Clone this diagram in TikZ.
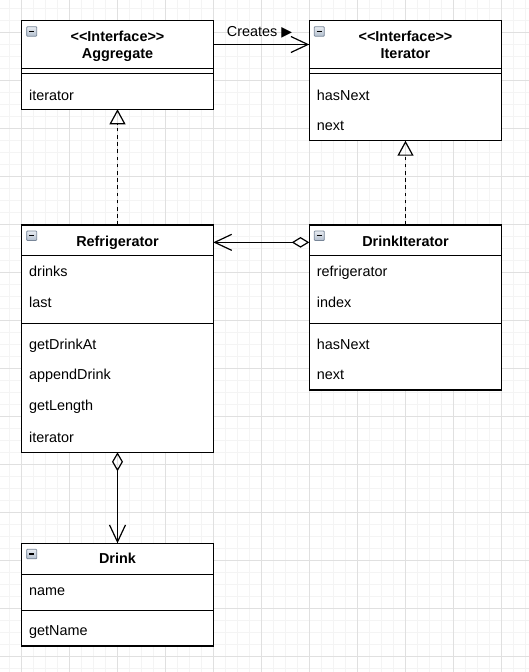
\documentclass[tikz,border=0pt]{standalone}
\usepackage{fontspec}
\setmainfont{Liberation Sans}
\newfontfamily\symfont{DejaVu Sans}
\usetikzlibrary{arrows.meta}
\definecolor{gridmajor}{RGB}{224,224,224}
\definecolor{gridminor}{RGB}{244,244,244}
\definecolor{iconborder}{RGB}{120,134,152}
\definecolor{icontop}{RGB}{232,236,242}
\definecolor{iconbottom}{RGB}{178,190,205}
\begin{document}
\begin{tikzpicture}[x=1pt,y=-1pt,
  classbox/.style={draw=black, line width=1.2pt, fill=white, inner sep=0pt, outer sep=0pt, anchor=north west},
  hdr/.style={inner sep=0pt, outer sep=0pt, anchor=north west},
  divider/.style={draw=black, line width=1.2pt},
  ttl/.style={font=\bfseries\fontsize{14.4}{17}\selectfont, inner sep=0pt, anchor=base},
  lbl/.style={font=\fontsize{14.4}{17}\selectfont, inner sep=0pt, anchor=base west},
  conn/.style={draw=black, line width=1.2pt},
  openv/.tip={Straight Barb[length=17pt,width=16pt]},
  realize/.style={conn, dash pattern=on 3.6pt off 3.6pt, -{Triangle[open,length=15pt,width=16pt]}},
  minusicon/.pic={
    \draw[draw=iconborder, top color=icontop, bottom color=iconbottom, line width=0.8pt, rounded corners=0.8pt] (0,0) rectangle (10,9.5);
    \draw[black, line width=1.3pt] (2.4,4.75) -- (7.6,4.75);
  }
]
\useasboundingbox (0,0) rectangle (529,672);
\fill[white] (0,0) rectangle (529,672);
% grid
\foreach \k in {-1,...,42} { \draw[gridminor, line width=1pt] ({21.5+12*\k},0) -- ({21.5+12*\k},672); }
\foreach \k in {0,...,55} { \draw[gridminor, line width=1pt] (0,{8.3+12*\k}) -- (529,{8.3+12*\k}); }
\foreach \k in {0,...,10} { \draw[gridmajor, line width=1pt] ({21.5+48*\k},0) -- ({21.5+48*\k},672); }
\foreach \k in {0,...,13} { \draw[gridmajor, line width=1pt] (0,{32.3+48*\k}) -- (529,{32.3+48*\k}); }

% ---------- Aggregate ----------
\node[classbox, minimum width=191.6pt, minimum height=88.6pt] (agg) at (21.7,20.7) {};
\node[hdr, minimum width=191.6pt, minimum height=47.6pt] (aggH) at (21.7,20.7) {};
\draw[divider] (21.7,68.3) -- (213.3,68.3);
\draw[divider] (21.7,73.2) -- (213.3,73.2);
\pic at (26.7,26.7) {minusicon};
\node[ttl] (aggT1) at (117.5,41.7) {<\kern0pt<Interface>\kern0pt>};
\node[ttl] (aggT2) at (117.5,58.3) {Aggregate};
\node[lbl] (aggM1) at (29,100) {iterator};

% ---------- Iterator ----------
\node[classbox, minimum width=192.4pt, minimum height=120pt] (it) at (309.3,20.7) {};
\node[hdr, minimum width=192.4pt, minimum height=47.6pt] (itH) at (309.3,20.7) {};
\draw[divider] (309.3,68.5) -- (501.7,68.5);
\draw[divider] (309.3,73.3) -- (501.7,73.3);
\pic at (314.3,26.7) {minusicon};
\node[ttl] (itT1) at (405.5,41.7) {<\kern0pt<Interface>\kern0pt>};
\node[ttl] (itT2) at (405.5,58.3) {Iterator};
\node[lbl] (itM1) at (316.7,100) {hasNext};
\node[lbl] (itM2) at (316.7,130.7) {next};

% ---------- Refrigerator ----------
\node[classbox, minimum width=191.6pt, minimum height=227.3pt] (ref) at (21.7,225) {};
\node[hdr, minimum width=191.6pt, minimum height=30.7pt] (refH) at (21.7,225) {};
\draw[divider] (21.7,255.7) -- (213.3,255.7);
\draw[divider] (21.7,323.3) -- (213.3,323.3);
\pic at (26.7,231) {minusicon};
\node[ttl] (refT) at (117.5,246) {Refrigerator};
\node[lbl] (refA1) at (29,276.7) {drinks};
\node[lbl] (refA2) at (29,307.3) {last};
\node[lbl] (refM1) at (29,349) {getDrinkAt};
\node[lbl] (refM2) at (29,379.3) {appendDrink};
\node[lbl] (refM3) at (29,410.7) {getLength};
\node[lbl] (refM4) at (29,442.3) {iterator};

% ---------- DrinkIterator ----------
\node[classbox, minimum width=192.4pt, minimum height=165pt] (di) at (309.3,225) {};
\node[hdr, minimum width=192.4pt, minimum height=30.7pt] (diH) at (309.3,225) {};
\draw[divider] (309.3,255.7) -- (501.7,255.7);
\draw[divider] (309.3,323.3) -- (501.7,323.3);
\pic at (314.3,231) {minusicon};
\node[ttl] (diT) at (405.5,246) {DrinkIterator};
\node[lbl] (diA1) at (316.7,276.7) {refrigerator};
\node[lbl] (diA2) at (316.7,307.3) {index};
\node[lbl] (diM1) at (316.7,349) {hasNext};
\node[lbl] (diM2) at (316.7,379.3) {next};

% ---------- Drink ----------
\node[classbox, minimum width=191.6pt, minimum height=102.7pt] (dr) at (21.7,543.3) {};
\node[hdr, minimum width=191.6pt, minimum height=31pt] (drH) at (21.7,543.3) {};
\draw[divider] (21.7,574.3) -- (213.3,574.3);
\draw[divider] (21.7,610.3) -- (213.3,610.3);
\pic at (26.7,549.3) {minusicon};
\node[ttl] (drT) at (117.5,563.3) {Drink};
\node[lbl] (drA1) at (29,595) {name};
\node[lbl] (drM1) at (29,635.7) {getName};

% ---------- connectors ----------
\draw[conn, -openv] (aggH.east) -- (itH.west);
\node[lbl] (creates) at (226.7,36.7) {Creates {\symfont\fontsize{14}{14}\selectfont ▶}};
\draw[realize] (ref.north) -- (agg.south);
\draw[realize] (di.north) -- (it.south);
\draw[conn, {Diamond[open,length=17.6pt,width=10.7pt]}-openv] ([yshift=-2pt]diH.west) -- ([yshift=-2pt]refH.east);
\draw[conn, {Diamond[open,length=19pt,width=11pt]}-openv] (ref.south) -- (dr.north);
\end{tikzpicture}
\end{document}
